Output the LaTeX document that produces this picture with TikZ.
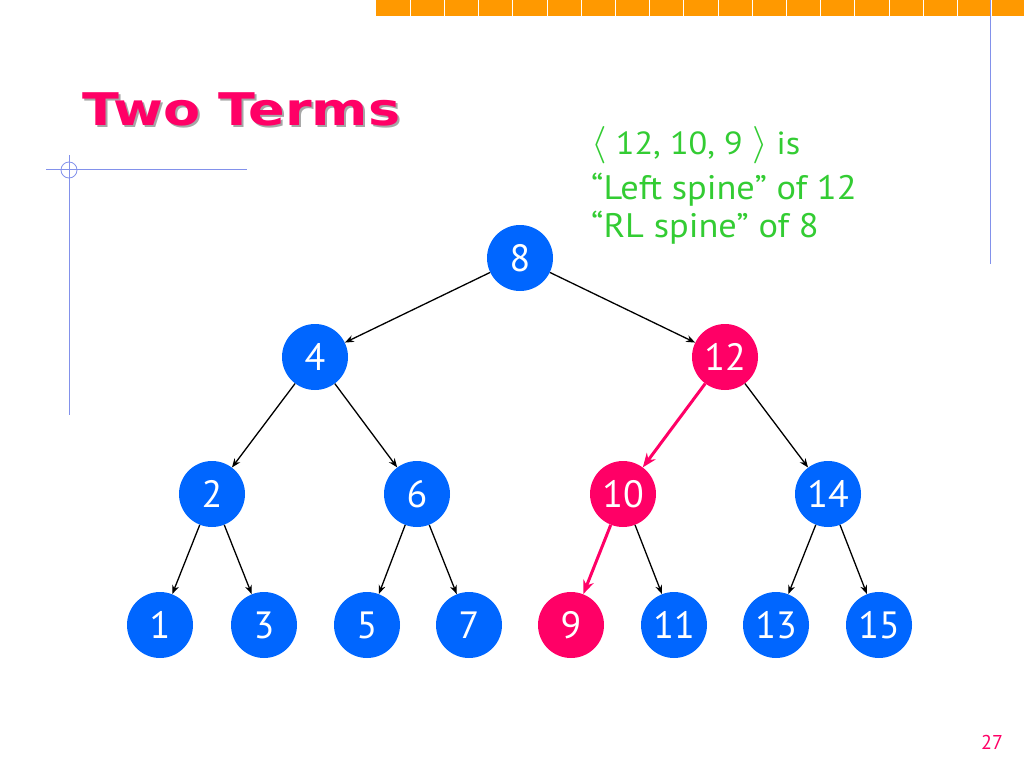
\documentclass[tikz,border=0pt]{standalone}
\usepackage{fontspec}
\setmainfont{PT Sans}
\newfontfamily\titlefont{DejaVu Sans}
\usetikzlibrary{arrows.meta}

\definecolor{nodeblue}{RGB}{0,102,255}
\definecolor{nodepink}{RGB}{255,0,102}
\definecolor{notegreen}{RGB}{51,204,51}
\definecolor{barorange}{RGB}{255,153,0}
\definecolor{rulecol}{RGB}{130,145,235}

\tikzset{
  bnode/.style={circle, fill=nodeblue, text=white, minimum size=66pt, inner sep=0pt,
    font=\fontsize{38}{40}\selectfont},
  pnode/.style={bnode, fill=nodepink},
  edge/.style={-{Stealth[length=9pt,width=7pt]}, line width=1.3pt, black},
  spine/.style={-{Stealth[length=14pt,width=11pt]}, line width=3pt, nodepink},
  note/.style={anchor=base west, inner sep=0pt, text=notegreen, xscale=1.07,
    font=\fontsize{34}{36}\selectfont}
}

\begin{document}
\begin{tikzpicture}[x=1pt,y=-1pt]
		\useasboundingbox (0,0) rectangle (1024,768);

		% slide decoration
		\fill[barorange] (376,0) rectangle (1024,16);
		\foreach \k in {1,...,18}
			\draw[white, line width=1pt] (376+34.2*\k,0) -- (376+34.2*\k,16);
		\draw[rulecol, line width=0.8pt] (990,0) -- (990,264);
		\draw[rulecol, line width=0.8pt] (46,169) -- (247,169);
		\draw[rulecol, line width=0.8pt] (69,155) -- (69,415);
		\draw[rulecol, line width=0.8pt] (69,170) circle (8);

		% title
		\node[anchor=base west, inner sep=0pt, text=black!35, xscale=1.2,
			font=\titlefont\fontsize{45}{50}\selectfont\bfseries] (shadow) at (84,127) {Two Terms};
		\node[anchor=base west, inner sep=0pt, text=nodepink, xscale=1.2,
			font=\titlefont\fontsize{45}{50}\selectfont\bfseries] (title) at (82,125) {Two Terms};

		% note
		\node[note, font=\fontsize{32}{34}\selectfont] (line1) at (591,154)
			{\scalebox{1.5}{$\langle$} 12, 10, 9 \scalebox{1.5}{$\rangle$} is};
		\node[note] (line2) at (591,199) {“Left spine” of 12};
		\node[note] (line3) at (591,237) {“RL spine” of 8};

		% tree
		\node[bnode] (n8) at (520,258) {8};
		\node[bnode] (n4) at (315,357) {4};
		\node[pnode] (n12) at (725,357) {12};
		\node[bnode] (n2) at (212,494) {2};
		\node[bnode] (n6) at (417,494) {6};
		\node[pnode] (n10) at (623,494) {10};
		\node[bnode] (n14) at (828,494) {14};
		\node[bnode] (n1) at (160,625) {1};
		\node[bnode] (n3) at (264,625) {3};
		\node[bnode] (n5) at (367,625) {5};
		\node[bnode] (n7) at (469,625) {7};
		\node[pnode] (n9) at (571,625) {9};
		\node[bnode] (n11) at (674,625) {11};
		\node[bnode] (n13) at (776,625) {13};
		\node[bnode] (n15) at (879,625) {15};

		\draw[edge] (n8) -- (n4);
		\draw[edge] (n8) -- (n12);
		\draw[edge] (n4) -- (n2);
		\draw[edge] (n4) -- (n6);
		\draw[edge] (n12) -- (n14);
		\draw[edge] (n2) -- (n1);
		\draw[edge] (n2) -- (n3);
		\draw[edge] (n6) -- (n5);
		\draw[edge] (n6) -- (n7);
		\draw[edge] (n10) -- (n11);
		\draw[edge] (n14) -- (n13);
		\draw[edge] (n14) -- (n15);
		\draw[spine] (n12) -- (n10);
		\draw[spine] (n10) -- (n9);

		% page number
		\node[text=nodepink, font=\fontsize{20}{22}\selectfont] (page) at (992,742) {27};
\end{tikzpicture}
\end{document}
